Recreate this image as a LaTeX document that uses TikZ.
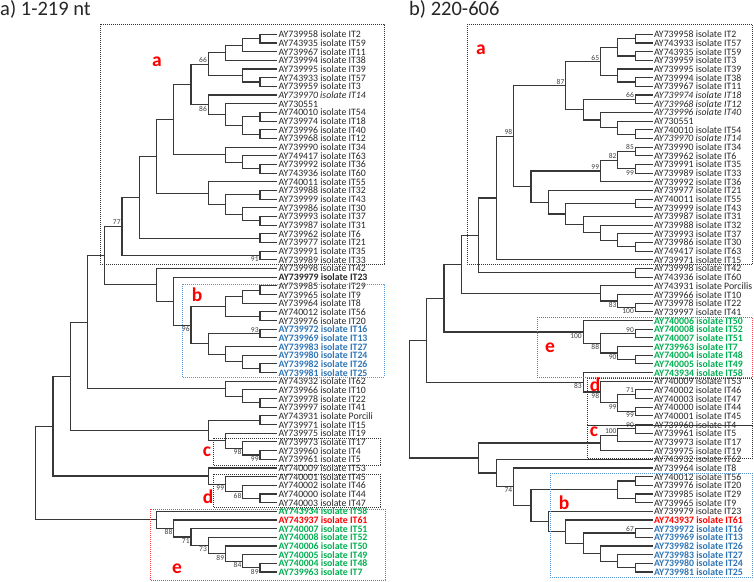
\documentclass[tikz,border=0pt]{standalone}
\usepackage{fontspec}
\setmainfont{Carlito}
\usepackage{xcolor}
\usepackage{tikz}

\definecolor{leafgray}{HTML}{262626}
\definecolor{bootgray}{HTML}{404040}
\definecolor{isoblue}{HTML}{2E75B6}
\definecolor{isogreen}{HTML}{00B050}
\definecolor{isored}{HTML}{FF0000}
\definecolor{boxblue}{HTML}{5B9BD5}
\definecolor{boxred}{HTML}{FF3B3B}
\newcommand{\leaffont}{\fontsize{9.8}{10}\selectfont}

\begin{document}
\begin{tikzpicture}[
  x=1pt, y=-1pt,
  leaf/.style={anchor=west, inner sep=1.2pt, font=\leaffont,
    text height=7pt, text depth=0pt, text=leafgray},
  lfreg/.style={},
  lfit/.style={font=\leaffont\itshape},
  lfbf/.style={font=\leaffont\bfseries},
  lfblue/.style={font=\leaffont\bfseries, text=isoblue},
  lfgreen/.style={font=\leaffont\bfseries, text=isogreen},
  lfred/.style={font=\leaffont\bfseries, text=isored},
  branch/.style={line width=1.2pt, draw=black!78},
  boot/.style={font=\fontsize{7.5}{7.5}\selectfont, text=bootgray, inner sep=1.2pt},
  clade/.style={font=\fontsize{19.5}{20}\selectfont\bfseries, text=isored, inner sep=0pt},
  title/.style={font=\fontsize{20.5}{21}\selectfont, text=leafgray, anchor=base west, inner sep=0pt},
  boxk/.style={draw=black!80, line width=0.9pt, dash pattern=on 0.9pt off 1.1pt},
  boxb/.style={boxk, draw=boxblue},
  boxr/.style={boxk, draw=boxred}
]
  \useasboundingbox (0,0) rectangle (754,581);

  \node[title] (ttla) at (0,15.5) {a) 1-219 nt};
  \node[title] (ttlb) at (409,15.5) {b) 220-606};

  % left tree, 1-219 nt
  \begin{scope}[shift={(35.7pt,-25.73pt)}, x=17.25pt, y=-8.67pt]
    \foreach \txt/\sty [count=\i] in {
      AY739958 isolate IT2/lfreg, AY743935 isolate IT59/lfreg, AY739967 isolate IT11/lfreg,
      AY739994 isolate IT38/lfreg, AY739995 isolate IT39/lfreg, AY743933 isolate IT57/lfreg,
      AY739959 isolate IT3/lfreg, AY739970 isolate IT14/lfit, AY730551/lfreg,
      AY740010 isolate IT54/lfreg, AY739974 isolate IT18/lfreg, AY739996 isolate IT40/lfreg,
      AY739968 isolate IT12/lfreg, AY739990 isolate IT34/lfreg, AY749417 isolate IT63/lfreg,
      AY739992 isolate IT36/lfreg, AY743936 isolate IT60/lfreg, AY740011 isolate IT55/lfreg,
      AY739988 isolate IT32/lfreg, AY739999 isolate IT43/lfreg, AY739986 isolate IT30/lfreg,
      AY739993 isolate IT37/lfreg, AY739987 isolate IT31/lfreg, AY739962 isolate IT6/lfreg,
      AY739977 isolate IT21/lfreg, AY739991 isolate IT35/lfreg, AY739989 isolate IT33/lfreg,
      AY739998 isolate IT42/lfreg, AY739979 isolate IT23/lfbf, AY739985 isolate IT29/lfreg,
      AY739965 isolate IT9/lfreg, AY739964 isolate IT8/lfreg, AY740012 isolate IT56/lfreg,
      AY739976 isolate IT20/lfreg, AY739972 isolate IT16/lfblue, AY739969 isolate IT13/lfblue,
      AY739983 isolate IT27/lfblue, AY739980 isolate IT24/lfblue, AY739982 isolate IT26/lfblue,
      AY739981 isolate IT25/lfblue, AY743932 isolate IT62/lfreg, AY739966 isolate IT10/lfreg,
      AY739978 isolate IT22/lfreg, AY739997 isolate IT41/lfreg, AY743931 isolate Porcili/lfreg,
      AY739971 isolate IT15/lfreg, AY739975 isolate IT19/lfreg, AY739973 isolate IT17/lfreg,
      AY739960 isolate IT4/lfreg, AY739961 isolate IT5/lfreg, AY740009 isolate IT53/lfreg,
      AY740001 isolate IT45/lfreg, AY740002 isolate IT46/lfreg, AY740000 isolate IT44/lfreg,
      AY740003 isolate IT47/lfreg, AY743934 isolate IT58/lfgreen, AY743937 isolate IT61/lfred,
      AY740007 isolate IT51/lfgreen, AY740008 isolate IT52/lfgreen, AY740006 isolate IT50/lfgreen,
      AY740005 isolate IT49/lfgreen, AY740004 isolate IT48/lfgreen, AY739963 isolate IT7/lfgreen}
      \node[leaf,\sty] (a\i) at (14,\i) {\txt};

    \foreach \nm/\lv/\rw/\ca/\cb in {
      ai1/13/1.5/a1/a2, ai2/12/2.25/ai1/a3, ai3/11/3.125/ai2/a4, ai4/13/6.5/a6/a7,
      ai5/12/5.75/a5/ai4, ai6/10/4.4375/ai3/ai5, ai7/13/10.5/a10/a11, ai8/13/12.5/a12/a13,
      ai9/12/11.5/ai7/ai8, ai10/11/10.25/a9/ai9, ai11/10/9.125/a8/ai10, ai12/9/6.781/ai6/ai11,
      ai13/13/16.5/a16/a17, ai14/12/15.75/a15/ai13, ai15/11/14.875/a14/ai14, ai16/8/10.828/ai12/ai15,
      ai17/13/19.5/a19/a20, ai18/13/22.5/a22/a23, ai19/12/21.75/a21/ai18, ai20/11/20.625/ai17/ai19,
      ai21/10/19.313/a18/ai20, ai22/7/15.07/ai16/ai21, ai23/13/24.5/a24/a25, ai24/6/19.785/ai22/ai23,
      ai25/13/26.5/a26/a27, ai26/5/23.14/ai24/ai25, ai27/13/30.5/a30/a31, ai28/12/31.25/ai27/a32,
      ai29/13/33.5/a33/a34, ai30/11/32.375/ai28/ai29, ai31/13/35.5/a35/a36, ai32/13/39.5/a39/a40,
      ai33/12/38.75/a38/ai32, ai34/11/37.875/a37/ai33, ai35/10/36.688/ai31/ai34, ai36/9/34.53/ai30/ai35,
      ai37/8/31.766/a29/ai36, ai38/7/29.883/a28/ai37, ai39/4/26.51/ai26/ai38, ai40/13/43.5/a43/a44,
      ai41/12/42.75/a42/ai40, ai42/11/41.875/a41/ai41, ai43/3/34.19/ai39/ai42, ai44/13/45.5/a45/a46,
      ai45/13/49.5/a49/a50, ai46/12/48.75/a48/ai45, ai47/11/47.875/a47/ai46, ai48/10/46.688/ai44/ai47,
      ai49/2/40.44/ai43/ai48, ai50/13/54.5/a54/a55, ai51/12/53.75/a53/ai50, ai52/11/52.875/a52/ai51,
      ai53/10/51.938/a51/ai52, ai54/1/46.19/ai49/ai53, ai55/13/62.5/a62/a63, ai56/12/61.75/a61/ai55,
      ai57/11/60.875/a60/ai56, ai58/10/59.938/a59/ai57, ai59/9/58.97/a58/ai58, ai60/8/57.98/a57/ai59,
      ai61/7/56.99/a56/ai60, ai62/0/51.59/ai54/ai61}
      {\coordinate (\nm) at (\lv,\rw);
       \draw[branch] (\ca) -| (\nm) |- (\cb);}

    \foreach \nm/\val in {ai6/66, ai26/77, ai31/93}
      \node[boot, above left] at (\nm) {\val};
    \foreach \nm/\val in {ai11/86, ai25/91, ai36/96, ai46/98, ai45/99, ai52/99, ai51/68,
      ai60/88, ai59/71, ai58/73, ai57/89, ai56/84, ai55/89}
      \node[boot, below left] at (\nm) {\val};
  \end{scope}

  % right tree, 220-606
  \begin{scope}[shift={(409.3pt,-25.73pt)}, x=17.38pt, y=-8.67pt]
    \foreach \txt/\sty [count=\i] in {
      AY739958 isolate IT2/lfreg, AY743933 isolate IT57/lfreg, AY743935 isolate IT59/lfreg,
      AY739959 isolate IT3/lfreg, AY739995 isolate IT39/lfreg, AY739994 isolate IT38/lfreg,
      AY739967 isolate IT11/lfreg, AY739974 isolate IT18/lfit, AY739968 isolate IT12/lfit,
      AY739996 isolate IT40/lfit, AY730551/lfreg, AY740010 isolate IT54/lfreg,
      AY739970 isolate IT14/lfit, AY739990 isolate IT34/lfreg, AY739962 isolate IT6/lfreg,
      AY739991 isolate IT35/lfreg, AY739989 isolate IT33/lfreg, AY739992 isolate IT36/lfreg,
      AY739977 isolate IT21/lfreg, AY740011 isolate IT55/lfreg, AY739999 isolate IT43/lfreg,
      AY739987 isolate IT31/lfreg, AY739988 isolate IT32/lfreg, AY739993 isolate IT37/lfreg,
      AY739986 isolate IT30/lfreg, AY749417 isolate IT63/lfreg, AY739971 isolate IT15/lfreg,
      AY739998 isolate IT42/lfreg, AY743936 isolate IT60/lfreg, AY743931 isolate Porcilis/lfreg,
      AY739966 isolate IT10/lfreg, AY739978 isolate IT22/lfreg, AY739997 isolate IT41/lfreg,
      AY740006 isolate IT50/lfgreen, AY740008 isolate IT52/lfgreen, AY740007 isolate IT51/lfgreen,
      AY739963 isolate IT7/lfgreen, AY740004 isolate IT48/lfgreen, AY740005 isolate IT49/lfgreen,
      AY743934 isolate IT58/lfgreen, AY740009 isolate IT53/lfreg, AY740002 isolate IT46/lfreg,
      AY740003 isolate IT47/lfreg, AY740000 isolate IT44/lfreg, AY740001 isolate IT45/lfreg,
      AY739960 isolate IT4/lfreg, AY739961 isolate IT5/lfreg, AY739973 isolate IT17/lfreg,
      AY739975 isolate IT19/lfreg, AY743932 isolate IT62/lfreg, AY739964 isolate IT8/lfreg,
      AY740012 isolate IT56/lfreg, AY739976 isolate IT20/lfreg, AY739985 isolate IT29/lfreg,
      AY739965 isolate IT9/lfreg, AY739979 isolate IT23/lfreg, AY743937 isolate IT61/lfred,
      AY739972 isolate IT16/lfblue, AY739969 isolate IT13/lfblue, AY739982 isolate IT26/lfblue,
      AY739983 isolate IT27/lfblue, AY739980 isolate IT24/lfblue, AY739981 isolate IT25/lfblue}
      \node[leaf,\sty] (b\i) at (14,\i) {\txt};

    \foreach \nm/\lv/\rw/\ca/\cb in {
      bi1/13/1.5/b1/b2, bi2/13/3.5/b3/b4, bi3/12/2.5/bi1/bi2, bi4/13/6.5/b6/b7,
      bi5/12/5.75/b5/bi4, bi6/11/4.125/bi3/bi5, bi7/13/8.5/b8/b9, bi8/13/12.5/b12/b13,
      bi9/12/11.75/b11/bi8, bi10/11/10.875/b10/bi9, bi11/10/9.688/bi7/bi10, bi12/9/6.906/bi6/bi11,
      bi13/13/14.5/b14/b15, bi14/13/16.5/b16/b17, bi15/12/15.5/bi13/bi14, bi16/11/16.75/bi15/b18,
      bi17/13/20.5/b20/b21, bi18/13/25.5/b25/b26, bi19/12/24.75/b24/bi18, bi20/11/23.875/b23/bi19,
      bi21/10/22.938/b22/bi20, bi22/9/21.72/bi17/bi21, bi23/8/20.36/b19/bi22, bi24/7/18.555/bi16/bi23,
      bi25/6/12.73/bi12/bi24, bi26/5/19.865/bi25/b27, bi27/13/28.5/b28/b29, bi28/4/24.18/bi26/bi27,
      bi29/13/32.5/b32/b33, bi30/12/31.75/b31/bi29, bi31/11/30.875/b30/bi30, bi32/3/27.53/bi28/bi31,
      bi33/13/35.5/b35/b36, bi34/13/38.5/b38/b39, bi35/12/37.75/b37/bi34, bi36/11/36.625/bi33/bi35,
      bi37/10/35.313/b34/bi36, bi38/2/31.42/bi32/bi37, bi39/13/42.5/b42/b43, bi40/13/44.5/b44/b45,
      bi41/12/43.5/bi39/bi40, bi42/11/42.25/b41/bi41, bi43/10/41.125/b40/bi42, bi44/1/36.27/bi38/bi43,
      bi45/13/46.5/b46/b47, bi46/12/47.25/bi45/b48, bi47/11/48.125/bi46/b49, bi48/13/52.5/b52/b53,
      bi49/13/54.5/b54/b55, bi50/12/53.5/bi48/bi49, bi51/13/58.5/b58/b59, bi52/13/62.5/b62/b63,
      bi53/12/61.75/b61/bi52, bi54/11/60.875/b60/bi53, bi55/10/59.688/bi51/bi54, bi56/9/58.34/b57/bi55,
      bi57/8/57.17/b56/bi56, bi58/7/55.336/bi50/bi57, bi59/6/53.168/b51/bi58, bi60/5/51.584/b50/bi59,
      bi61/4/49.85/bi47/bi60, bi62/0/43.06/bi44/bi61}
      {\coordinate (\nm) at (\lv,\rw);
       \draw[branch] (\ca) -| (\nm) |- (\cb);}

    \foreach \nm/\val in {bi6/65, bi12/87, bi7/66, bi25/98, bi13/85, bi15/82, bi16/99,
      bi33/90, bi39/71, bi45/90, bi46/100, bi51/67}
      \node[boot, above left] at (\nm) {\val};
    \foreach \nm/\val in {bi14/99, bi30/83, bi29/100, bi37/100, bi36/88, bi35/90,
      bi43/83, bi42/98, bi41/99, bi40/99, bi59/74}
      \node[boot, below left] at (\nm) {\val};
  \end{scope}

  % clade boxes
  \draw[boxk] (100,24) rectangle (384,264);
  \draw[boxb] (182,284) rectangle (384,377);
  \draw[boxk] (213,438) rectangle (380,465);
  \draw[boxk] (213,474) rectangle (380,507);
  \draw[boxr] (150,509) rectangle (385,580);
  \draw[boxk] (467,24) rectangle (752.5,264);
  \draw[boxr] (537,317) rectangle (752.5,377);
  \draw[boxk] (587,378) rectangle (752.5,425);
  \draw[boxk] (587,425) rectangle (752.5,458);
  \draw[boxb] (550,473) rectangle (752.5,577);

  \node[clade] (lfa) at (157,62) {a};
  \node[clade] (lfb) at (197,295) {b};
  \node[clade] (lfc) at (207,452) {c};
  \node[clade] (lfd) at (208,497) {d};
  \node[clade] (lfe) at (177,569) {e};
  \node[clade] (rta) at (481,50) {a};
  \node[clade] (rte) at (550,348) {e};
  \node[clade] (rtd) at (595,385) {d};
  \node[clade] (rtc) at (594,432) {c};
  \node[clade] (rtb) at (564,503) {b};
\end{tikzpicture}
\end{document}
